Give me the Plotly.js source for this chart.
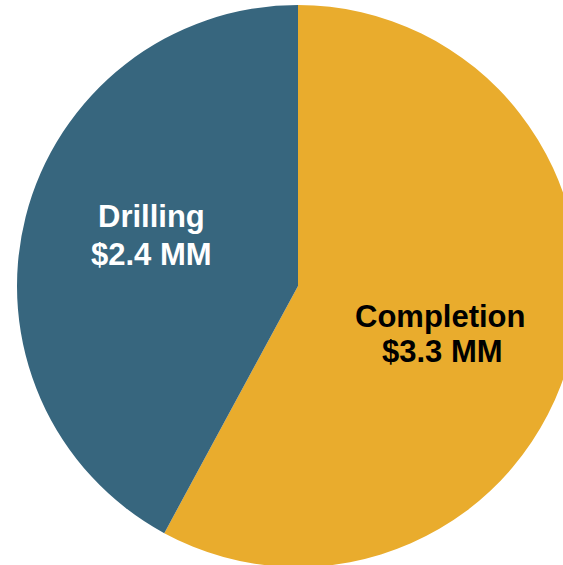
<!DOCTYPE html>
<html>
<head>
<meta charset="utf-8">
<script src="https://cdn.plot.ly/plotly-3.0.1.min.js"></script>
<style>
html, body { margin: 0; padding: 0; overflow: hidden; background: #fff; }
#chart { width: 580px; height: 575px; }
</style>
</head>
<body>
<div id="chart"></div>
<script>
const categories = ['Completion', 'Drilling'];
const costs = [3.3, 2.4];
const sliceColors = ['#E9AC2D', '#37667E'];
const labelColors = ['#000000', '#FFFFFF'];

// label placement (paper coordinates) for [name line, value line] of each slice
const labelPos = [
  [[0.7536, 0.4466], [0.7580, 0.3843]],
  [[0.2402, 0.6237], [0.2393, 0.5560]]
];

const trace = {
  type: 'pie',
  labels: categories,
  values: costs,
  sort: false,
  direction: 'clockwise',
  rotation: 0,
  marker: { colors: sliceColors, line: { width: 0 } },
  textinfo: 'none',
  hoverinfo: 'none',
  showlegend: false
};

const annotations = [];
categories.forEach((name, i) => {
  const lines = [name, '$' + costs[i].toFixed(1) + ' MM'];
  lines.forEach((txt, j) => {
    annotations.push({
      text: txt,
      xref: 'paper', yref: 'paper',
      x: labelPos[i][j][0], y: labelPos[i][j][1],
      xanchor: 'center', yanchor: 'middle',
      showarrow: false,
      font: { family: 'Liberation Sans, Arial, sans-serif', size: 31, weight: 'bold', color: labelColors[i] }
    });
  });
});

const layout = {
  width: 580,
  height: 575,
  margin: { l: 17, r: 1, t: 5, b: 8, pad: 0 },
  paper_bgcolor: '#ffffff',
  plot_bgcolor: '#ffffff',
  showlegend: false,
  annotations: annotations
};

Plotly.newPlot('chart', [trace], layout, { staticPlot: true, displayModeBar: false });
</script>
</body>
</html>
